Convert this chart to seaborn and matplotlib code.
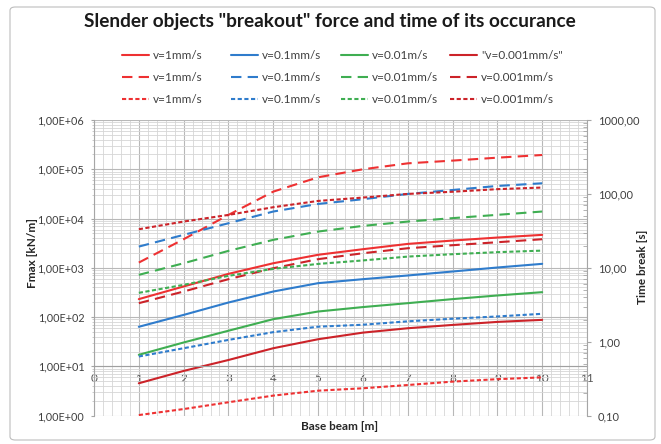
import numpy as np
import matplotlib
matplotlib.use("Agg")
import matplotlib.pyplot as plt
import seaborn as sns
from matplotlib.patches import FancyBboxPatch
from matplotlib.ticker import LogLocator, FuncFormatter, MultipleLocator, NullFormatter

# base beam [m]
base_beam = [1, 2, 3, 4, 5, 6, 7, 8, 9, 10]

# Fmax [kN/m], solid lines
fmax_v1 = [232, 419, 755, 1240, 1840, 2390, 3060, 3580, 4120, 4670]
fmax_v01 = [63.7, 111, 198, 331, 489, 589, 700, 843, 1016, 1206]
fmax_v001 = [17.2, 30.6, 53, 91, 130, 160, 192, 232, 275, 321]
fmax_v0001 = [4.55, 8.1, 13.5, 23.4, 35.6, 48.5, 59.5, 69.5, 80, 88]

# Fmax [kN/m], long dashed lines
fmax2_v1 = [1280, 3810, 11860, 35200, 68800, 100000, 132000, 150000, 172000, 195000]
fmax2_v01 = [2700, 4670, 8040, 13900, 19800, 24700, 31600, 38000, 45900, 52000]
fmax2_v001 = [721, 1240, 2210, 3700, 5450, 7100, 8690, 10200, 11900, 13900]
fmax2_v0001 = [192, 331, 589, 984, 1500, 1980, 2500, 2880, 3310, 3810]

# time break [s], short dashed lines (right axis)
time_v1 = [0.102, 0.123, 0.152, 0.187, 0.218, 0.235, 0.260, 0.289, 0.312, 0.330]
time_v01 = [0.632, 0.818, 1.06, 1.35, 1.60, 1.70, 1.89, 2.05, 2.20, 2.39]
time_v001 = [4.59, 5.89, 7.80, 9.70, 11.3, 12.6, 14.2, 15.3, 16.3, 17.1]
time_v0001 = [33.3, 42.3, 52.0, 66.1, 80.4, 89.3, 100, 107, 116, 122]

labels_solid = ["v=1mm/s", "v=0.1mm/s", "v=0.01m/s", '"v=0.001mm/s"']
labels_speed = ["v=1mm/s", "v=0.1mm/s", "v=0.01mm/s", "v=0.001mm/s"]
colors = ["#ee3132", "#2f7ccc", "#3fae52", "#cc2329"]

solid = [fmax_v1, fmax_v01, fmax_v001, fmax_v0001]
dashed = [fmax2_v1, fmax2_v01, fmax2_v001, fmax2_v0001]
dotted = [time_v1, time_v01, time_v001, time_v0001]

sns.set_style("white")
plt.rcParams["font.family"] = ["Lato", "DejaVu Sans"]

W, H = 661, 444
fig = plt.figure(figsize=(W / 100, H / 100), dpi=100)
ax = fig.add_axes([94 / W, 1 - 415.7 / H, 493 / W, 295.7 / H])
ax2 = ax.twinx()

long_dash = (0, (5, 3))
short_dash = (0, (2, 1.2))

solid_lines, dash_lines, dot_lines = [], [], []
for i in range(4):
    sns.lineplot(x=base_beam, y=solid[i], ax=ax, color=colors[i], lw=1.5, legend=False)
    solid_lines.append(ax.lines[-1])
    sns.lineplot(x=base_beam, y=dashed[i], ax=ax, color=colors[i], lw=1.5,
                 linestyle=long_dash, legend=False)
    dash_lines.append(ax.lines[-1])
    sns.lineplot(x=base_beam, y=dotted[i], ax=ax2, color=colors[i], lw=1.5,
                 linestyle=short_dash, legend=False)
    dot_lines.append(ax2.lines[-1])

# left axis
ax.set_yscale("log")
ax.set_ylim(1, 1e6)
ax.set_xlim(0, 11)
ax.xaxis.set_major_locator(MultipleLocator(1))
ax.xaxis.set_minor_locator(MultipleLocator(0.2))
ax.yaxis.set_major_locator(LogLocator(base=10, numticks=10))
ax.yaxis.set_minor_locator(LogLocator(base=10, subs=np.arange(2, 10), numticks=10))
ax.yaxis.set_major_formatter(FuncFormatter(lambda v, p: f"{v:.2E}".replace(".", ",")))
ax.yaxis.set_minor_formatter(NullFormatter())
ax.grid(which="major", color="#b8b8b8", lw=0.8)
ax.grid(which="minor", color="#d6d6d6", lw=0.6)
ax.set_axisbelow(True)
ax.set_xlabel("")
ax.set_ylabel("")

for s in ["top", "right"]:
    ax.spines[s].set_visible(False)
ax.spines["bottom"].set_position(("data", 10))
ax.spines["bottom"].set_color("#a0a0a0")
ax.spines["left"].set_color("#a6a6a6")
ax.tick_params(axis="x", which="both", length=0, pad=5, labelsize=8.5, labelcolor="#595959")
ax.tick_params(axis="y", which="major", length=2.5, pad=4.5, color="#a6a6a6",
               labelsize=7.8, labelcolor="#404040")
ax.tick_params(axis="y", which="minor", length=1.5, color="#c4c4c4")

# right axis
ax2.set_yscale("log")
ax2.set_ylim(0.1, 1000)
ax2.set_xlim(0, 11)
ax2.yaxis.set_major_locator(LogLocator(base=10, numticks=10))
ax2.yaxis.set_minor_locator(LogLocator(base=10, subs=np.arange(2, 10), numticks=10))
ax2.yaxis.set_major_formatter(FuncFormatter(lambda v, p: f"{v:.2f}".replace(".", ",")))
ax2.yaxis.set_minor_formatter(NullFormatter())
ax2.set_ylabel("")
ax2.set_xlabel("")
for s in ["top", "left", "bottom"]:
    ax2.spines[s].set_visible(False)
ax2.spines["right"].set_color("#a6a6a6")
ax2.tick_params(axis="y", which="major", direction="out", length=3, pad=5, color="#a6a6a6",
                labelsize=8, labelcolor="#404040")
ax2.tick_params(axis="y", which="minor", direction="in", length=3, color="#a6a6a6")

# legend, one column per speed
col_x = [122, 231, 341, 450]
for j in range(4):
    fig.legend([solid_lines[j], dash_lines[j], dot_lines[j]],
               [labels_solid[j], labels_speed[j], labels_speed[j]],
               loc="upper left", bbox_to_anchor=(col_x[j] / W, 1 - 50 / H),
               frameon=False, fontsize=8.5, handlelength=2.3, handletextpad=0.35,
               labelspacing=0.95, borderpad=0, borderaxespad=0, labelcolor="#404040")

# texts
fig.text(330 / W, 1 - 21 / H, 'Slender objects "breakout" force and time of its occurance',
         ha="center", va="center", fontsize=13.7, fontweight="bold", color="#1a1a1a")
fig.text(32 / W, 1 - 253 / H, "Fmax [kN/m]", rotation=90, ha="center", va="center",
         fontsize=8.5, fontweight="bold", color="#262626")
fig.text(642 / W, 1 - 267 / H, "Time break [s]", rotation=90, ha="center", va="center",
         fontsize=8.5, fontweight="bold", color="#262626")
fig.text(340 / W, 1 - 426 / H, "Base beam [m]", ha="center", va="center",
         fontsize=8.5, fontweight="bold", color="#262626")

# chart border
fig.patches.append(FancyBboxPatch((10 / W, 4 / H), 645 / W, 433 / H,
                                  boxstyle="round,pad=0,rounding_size=0.008",
                                  transform=fig.transFigure, fill=False,
                                  edgecolor="#bdbdbd", lw=0.8))

fig.savefig("out.png", dpi=100)
